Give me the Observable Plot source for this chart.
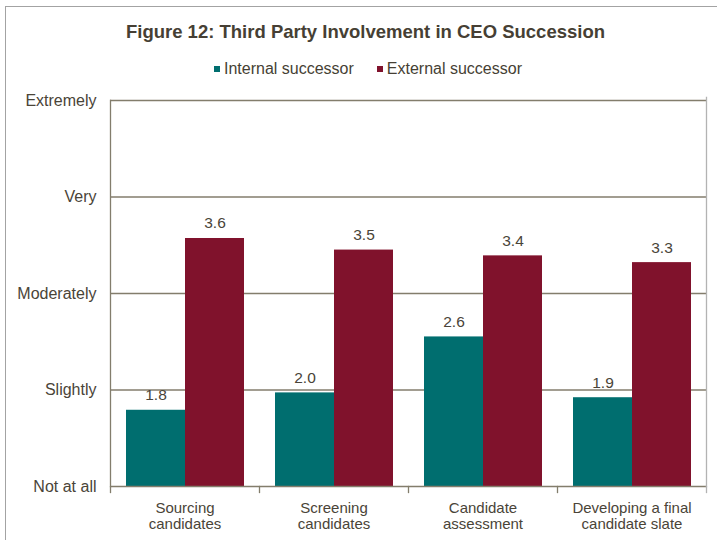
<!DOCTYPE html>
<html>
<head>
<meta charset="utf-8">
<script src="https://cdn.jsdelivr.net/npm/d3@7"></script>
<script src="https://cdn.jsdelivr.net/npm/@observablehq/plot@0.6"></script>
<style>
  body { margin: 0; background: #fff; font-family: "Liberation Sans", Arial, sans-serif; }
  #wrap { position: relative; width: 717px; height: 540px; overflow: hidden; background: #fff; }
  #border { position: absolute; left: 5px; top: 6px; width: 800px; height: 600px;
            border-left: 1.5px solid #a3a3a3; border-top: 1.5px solid #a3a3a3; }
  #title { position: absolute; top: 20px; left: 14px; width: 703px; text-align: center;
           font-size: 18.5px; line-height: 24px; font-weight: bold; color: #463f34; }
  #legend { position: absolute; top: 59px; left: 0; width: 736px; height: 20px;
            display: flex; justify-content: center; align-items: center;
            font-size: 16px; color: #463f34; }
  .item { display: flex; align-items: center; }
  .item + .item { margin-left: 23px; }
  .sw { width: 6px; height: 6px; margin-right: 4px; }
  #chart { position: absolute; top: 80px; left: -2px; }
</style>
</head>
<body>
<div id="wrap">
  <div id="border"></div>
  <div id="title">Figure 12: Third Party Involvement in CEO Succession</div>
  <div id="legend"></div>
  <div id="chart"></div>
</div>
<script>
const categories = ["Sourcing\ncandidates", "Screening\ncandidates", "Candidate\nassessment", "Developing a final\ncandidate slate"];
const series = ["Internal successor", "External successor"];
const internalValues = [1.79, 1.97, 2.55, 1.92];
const externalValues = [3.57, 3.45, 3.39, 3.32];
const internalLabels = ["1.8", "2.0", "2.6", "1.9"];
const externalLabels = ["3.6", "3.5", "3.4", "3.3"];
const yTicks = [1, 2, 3, 4, 5];
const yTickLabels = ["Not at all", "Slightly", "Moderately", "Very", "Extremely"];
const colors = ["#006e6f", "#80122c"];

const rows = categories.flatMap((c, i) => [
  {category: c, series: series[0], value: internalValues[i], label: internalLabels[i]},
  {category: c, series: series[1], value: externalValues[i], label: externalLabels[i]}
]);

const legend = document.getElementById("legend");
series.forEach((s, i) => {
  const it = document.createElement("div");
  it.className = "item";
  it.innerHTML = `<span class="sw" style="background:${colors[i]}"></span><span>${s}</span>`;
  legend.appendChild(it);
});

const gridColor = "#837d6c";
const textColor = "#4a4438";
const H = 460, mT = 20, mB = 54;

const chart = Plot.plot({
  width: 719,
  height: H,
  marginLeft: 110,
  marginRight: 10,
  marginTop: mT,
  marginBottom: mB,
  style: {fontFamily: "'Liberation Sans', Arial, sans-serif", fontSize: "15px", color: textColor, background: "transparent"},
  fx: {domain: categories, padding: 0, label: null},
  x: {domain: series, paddingInner: 0, paddingOuter: 0.25, axis: null},
  y: {domain: [1, 5], axis: null},
  color: {domain: series, range: colors},
  marks: [
    Plot.ruleY([2, 3, 4, 5], {stroke: gridColor, strokeWidth: 1.3}),
    Plot.barY(rows, {fx: "category", x: "series", y1: 1, y2: "value", fill: "series"}),
    Plot.text(rows, {fx: "category", x: "series", y: "value", text: "label", dy: -15, fontSize: 15.5, fill: textColor}),
    Plot.ruleY([1], {stroke: gridColor, strokeWidth: 1.3}),
    Plot.frame({anchor: "left", facetAnchor: "left", stroke: gridColor, strokeWidth: 1.3}),
    Plot.frame({anchor: "right", facetAnchor: "right", stroke: "#b3b3b3", strokeWidth: 1.3, insetTop: -3}),
    Plot.frame({anchor: "left", insetTop: H - mT - mB, insetBottom: -6, stroke: gridColor, strokeWidth: 1.3}),
    Plot.frame({anchor: "right", facetAnchor: "right", insetTop: H - mT - mB, insetBottom: -6, stroke: "#b3b3b3", strokeWidth: 1.3}),
    Plot.axisY(yTicks, {tickSize: 0, tickPadding: 14, fontSize: 16, fill: textColor, label: null,
      tickFormat: d => yTickLabels[yTicks.indexOf(d)]}),
    Plot.axisFx({anchor: "bottom", tickSize: 0, tickPadding: 14, fontSize: 15, fill: textColor, lineHeight: 1.13, label: null})
  ]
});
document.getElementById("chart").appendChild(chart);
</script>
</body>
</html>
